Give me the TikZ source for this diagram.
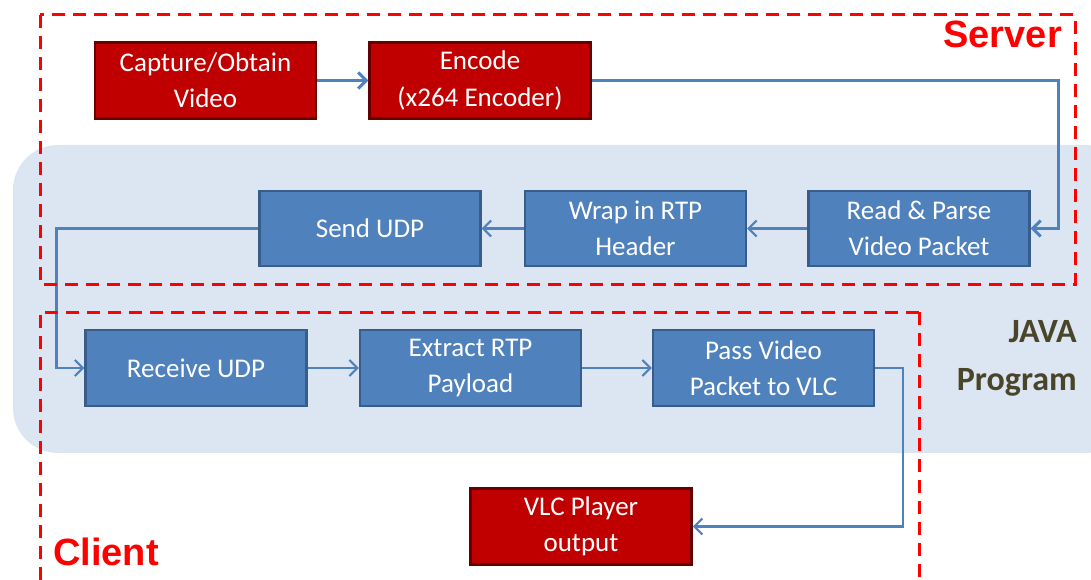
\documentclass[tikz,border=0pt]{standalone}
\usepackage{fontspec}
\setmainfont{Carlito}
\newfontfamily\arialfont{Liberation Sans}
\usetikzlibrary{arrows.meta}
\definecolor{redfill}{HTML}{C00000}
\definecolor{redborder}{HTML}{640000}
\definecolor{bluefill}{HTML}{4F81BD}
\definecolor{blueborder}{HTML}{385D8A}
\definecolor{regionfill}{HTML}{DCE6F2}
\definecolor{dashred}{HTML}{FF0000}
\definecolor{olive}{HTML}{4A452A}
\tikzset{
  redbox/.style={draw=redborder, line width=2.5pt, fill=redfill, text=white, minimum width=221pt, minimum height=76pt, inner sep=0pt, align=center, font=\fontsize{27}{36}\selectfont},
  bluebox/.style={draw=blueborder, line width=2.2pt, fill=bluefill, text=white, minimum width=221pt, minimum height=75pt, inner sep=0pt, align=center, font=\fontsize{27}{36}\selectfont},
  conn/.style={draw=bluefill, line width=2.2pt, -{Straight Barb[length=8pt,width=16pt,line width=2.2pt]}},
  thickconn/.style={draw=bluefill, line width=3pt, -{Straight Barb[length=8pt,width=16pt,line width=3pt]}},
  zone/.style={draw=dashred, line width=3pt, dash pattern=on 13pt off 8pt},
  zonelabel/.style={text=dashred, font=\arialfont\bfseries\fontsize{38}{40}\selectfont, inner sep=0pt},
  javalabel/.style={text=olive, font=\bfseries\fontsize{34}{40}\selectfont, inner sep=0pt}
}
\begin{document}
\begin{tikzpicture}[x=1pt,y=-1pt]
\useasboundingbox (0,0) rectangle (1091,580);
\begin{scope}
\clip (0,0) rectangle (1091,580);
\fill[regionfill, rounded corners=45pt] (13,145) rectangle (1130,453);
\end{scope}

\node[redbox] (cap) at (205.5,80.5) {Capture/Obtain\\Video};
\node[redbox] (enc) at (480,80.5) {Encode\\(x264 Encoder)};
\node[bluebox] (read) at (919,228.5) {Read \& Parse\\Video Packet};
\node[bluebox] (wrap) at (635.5,228.5) {Wrap in RTP\\Header};
\node[bluebox] (send) at (370,228.5) {Send UDP};
\node[bluebox, minimum height=76pt] (recv) at (196,368) {Receive UDP};
\node[bluebox, minimum height=76pt] (extr) at (470.5,368) {Extract RTP\\Payload};
\node[bluebox, minimum height=76pt] (pass) at (763.5,368) {Pass Video\\Packet to VLC};
\node[redbox] (vlc) at (581,526.5) {VLC Player\\output};

\draw[thickconn] (cap) -- (enc);
\draw[thickconn] (enc.east) -| ([xshift=28pt]read.east) -- (read.east);
\draw[conn] (read) -- (wrap);
\draw[conn] (wrap) -- (send);
\draw[conn] (send.west) -| ([xshift=-28pt]recv.west) -- (recv.west);
\draw[conn] (recv) -- (extr);
\draw[conn] (extr) -- (pass);
\draw[conn] (pass.east) -- ++(28,0) |- (vlc.east);

\begin{scope}
\clip (0,0) rectangle (1091,580);
\draw[zone] (40,15) rectangle (1075,284);
\draw[zone] (919,312) -- (40,312) -- (40,600);
\draw[zone] (919,312) -- (919,600);
\end{scope}

\node[zonelabel, anchor=base east] (server) at (1062,48) {Server};
\node[zonelabel, anchor=base west] (client) at (53,565) {Client};
\node[javalabel, anchor=base east] (java) at (1077,342) {JAVA};
\node[javalabel, anchor=base east] (prog) at (1077,390) {Program};
\end{tikzpicture}
\end{document}
